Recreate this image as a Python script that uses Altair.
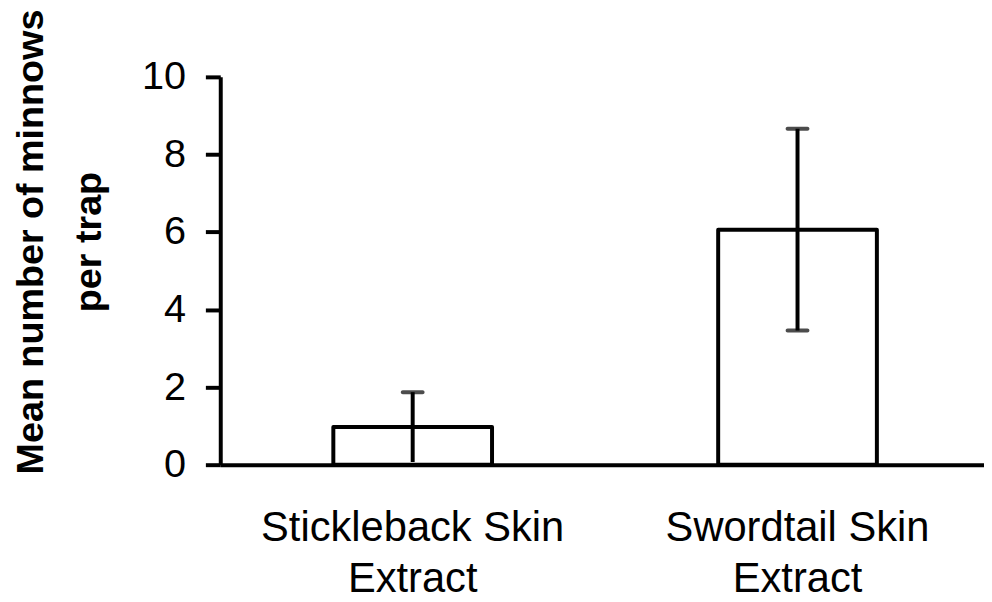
import altair as alt
import pandas as pd

categories = ["Stickleback Skin Extract", "Swordtail Skin Extract"]
means = [0.97, 6.06]
errors = [0.90, 2.60]

df = pd.DataFrame({
    "cat": categories,
    "mean": means,
    "lo": [m - e for m, e in zip(means, errors)],
    "hi": [m + e for m, e in zip(means, errors)],
})

FONT = "Liberation Sans"

x_enc = alt.X(
    "cat:N",
    sort=categories,
    scale=alt.Scale(paddingInner=0, paddingOuter=0),
    axis=alt.Axis(
        title=None,
        labelAngle=0,
        labelFontSize=42,
        labelFont=FONT,
        labelColor="black",
        labelPadding=43,
        labelLineHeight=52,
        labelLimit=0,
        labelExpr="[replace(datum.label, ' Extract', ''), 'Extract']",
        ticks=False,
        domainColor="black",
        domainWidth=4,
    ),
)

y_scale = alt.Scale(domain=[0, 10], nice=False, zero=True)

bars = alt.Chart(df).mark_bar(
    size=160, fill="white", stroke="black", strokeWidth=4, strokeJoin="round"
).encode(
    x=x_enc,
    y=alt.Y(
        "mean:Q",
        scale=y_scale,
        axis=alt.Axis(
            values=[0, 2, 4, 6, 8, 10],
            grid=False,
            labelFontSize=40,
            labelFont=FONT,
            labelColor="black",
            labelPadding=20,
            tickSize=15,
            tickWidth=4,
            tickColor="black",
            domainColor="black",
            domainWidth=4,
            title=["Mean number of minnows", "per trap"],
            titleFont=FONT,
            titleFontSize=38,
            titleFontWeight="bold",
            titleColor="black",
            titleAngle=270,
            titleBaseline="top",
            titleAlign="center",
            titleLineHeight=58,
            titleX=-209,
            titleY=166,
        ),
    ),
)

rules = alt.Chart(df).mark_rule(color="black", strokeWidth=4).encode(
    x=alt.X("cat:N", sort=categories),
    y="lo:Q",
    y2="hi:Q",
)

caps_hi = alt.Chart(df).mark_tick(
    color="black", size=24, thickness=4, orient="horizontal", cornerRadius=2
).encode(x=alt.X("cat:N", sort=categories), y="hi:Q")

caps_lo = alt.Chart(df).transform_filter("datum.lo > 0.5").mark_tick(
    color="black", size=24, thickness=4, orient="horizontal", cornerRadius=2
).encode(x=alt.X("cat:N", sort=categories), y="lo:Q")

chart = (
    alt.layer(bars, rules, caps_hi, caps_lo)
    .properties(
        width=776,
        height=391,
        autosize=alt.AutoSizeParams(type="none"),
        padding={"left": 214, "top": 67, "right": -6, "bottom": 136},
        background="white",
    )
    .configure_view(stroke=None)
)

chart.save("out.html", embed_options={"renderer": "svg", "actions": False})
